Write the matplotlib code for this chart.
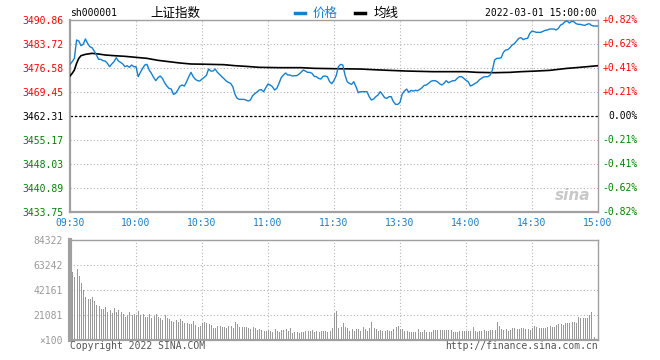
import matplotlib
matplotlib.use("Agg")
import matplotlib.pyplot as plt
import numpy as np

# ---------------- data ----------------
base_price = 3462.31
price = [
    3477.67, 3478.46, 3479.45, 3484.91, 3484.61, 3483.22, 3483.62, 3485.21, 3483.92, 3482.93, 3482.63,
    3481.64, 3480.45, 3479.16, 3479.16, 3478.76, 3478.66, 3477.97, 3476.97, 3477.77, 3478.46,
    3479.65, 3478.66, 3478.26, 3477.77, 3476.97, 3477.27, 3476.78, 3477.47, 3476.97, 3476.97,
    3474.00, 3475.29, 3476.48, 3477.47, 3477.67, 3475.98, 3474.99, 3473.80, 3472.81, 3473.70,
    3474.20, 3473.50, 3472.21, 3471.22, 3470.53, 3470.33, 3468.74, 3469.04, 3470.03, 3471.22,
    3471.52, 3471.22, 3472.51, 3474.00, 3475.29, 3474.00, 3473.20, 3472.81, 3472.71, 3473.30,
    3473.80, 3474.39, 3476.28, 3475.68, 3475.68, 3476.28, 3475.29, 3474.69, 3474.00, 3473.40,
    3472.71, 3472.31, 3472.01, 3471.02, 3468.74, 3467.55, 3467.25, 3467.25, 3467.25, 3467.05,
    3466.76, 3467.05, 3468.34, 3468.94, 3469.43, 3470.03, 3470.13, 3469.53, 3470.72, 3471.82,
    3471.52, 3471.02, 3470.03, 3470.53, 3472.01, 3473.70, 3474.49, 3475.09, 3474.49, 3474.49,
    3474.20, 3474.30, 3474.30, 3474.69, 3475.29, 3475.98, 3475.68, 3475.29, 3475.29, 3474.99,
    3474.10, 3474.00, 3473.50, 3473.30, 3474.10, 3474.20, 3474.00, 3472.51, 3471.91, 3472.91,
    3474.30, 3476.97, 3477.67, 3477.47, 3474.49, 3472.51, 3472.01, 3471.72, 3472.51, 3471.02,
    3469.24, 3469.53, 3469.53, 3469.53, 3469.53, 3468.05, 3467.05, 3467.35, 3468.05, 3468.54,
    3469.53, 3468.74, 3467.75, 3467.55, 3468.05, 3468.05, 3466.56, 3465.76, 3465.76, 3466.36,
    3468.84, 3469.73, 3470.33, 3469.34, 3469.93, 3469.73, 3469.93, 3469.83, 3470.23, 3470.72,
    3471.42, 3471.52, 3472.01, 3472.61, 3472.81, 3472.81, 3472.51, 3471.91, 3471.52, 3472.01,
    3472.81, 3472.21, 3472.51, 3472.81, 3472.81, 3473.50, 3474.00, 3474.00, 3473.50, 3472.91,
    3472.51, 3471.22, 3471.52, 3471.91, 3472.31, 3473.01, 3473.50, 3473.90, 3474.00, 3474.00,
    3474.49, 3475.98, 3478.96, 3479.45, 3479.45, 3479.65, 3481.24, 3481.93, 3482.03, 3482.63,
    3483.42, 3483.82, 3484.61, 3485.41, 3485.60, 3485.01, 3485.31, 3485.41, 3486.89, 3487.59,
    3487.39, 3487.19, 3487.19, 3487.19, 3487.49, 3487.79, 3487.89, 3488.18, 3488.18, 3488.18,
    3487.89, 3488.38, 3489.37, 3489.67, 3490.37, 3490.56, 3489.97, 3490.47, 3490.37, 3489.77,
    3489.57, 3489.57, 3489.37, 3489.27, 3489.57, 3489.77, 3489.27, 3489.08, 3489.08, 3489.08,
]

avg_minutes = [0, 1, 2, 3, 4, 5, 7, 10, 13, 16, 20, 25, 30, 35, 40, 45, 50, 55, 60, 70, 75, 80,
               86, 95, 105, 111, 120, 132, 138, 145, 153, 165, 180, 185, 193, 200, 205, 212,
               218, 222, 226, 230, 235, 240]
avg_price = [3474.20, 3474.99, 3475.98, 3477.97, 3479.45, 3480.25, 3480.64, 3480.94, 3480.74,
             3480.45, 3480.25, 3480.05, 3479.75, 3479.45, 3478.86, 3478.46, 3478.07, 3477.77,
             3477.72, 3477.57, 3477.27, 3477.07, 3476.78, 3476.68, 3476.68, 3476.48, 3476.38,
             3476.28, 3476.08, 3475.88, 3475.68, 3475.49, 3475.49, 3475.29, 3475.19, 3475.29,
             3475.49, 3475.68, 3475.88, 3476.18, 3476.48, 3476.68, 3476.97, 3477.27]

volume = [
    56000, 57000, 53400, 59870, 53960, 48340, 42160, 36540, 34570, 34570, 36260,
    32890, 29510, 28670, 26140, 26140, 27830, 23890, 25300, 23050, 27260,
    23890, 25300, 23330, 21640, 19670, 21080, 23330, 21080, 21640, 21080,
    24450, 21080, 21640, 19670, 19670, 21640, 18830, 20520, 21640, 19670,
    18270, 16860, 21080, 18830, 17710, 16020, 15460, 16860, 15460, 17710,
    16020, 14620, 14620, 13210, 13490, 16020, 12650, 11240, 12090, 14050,
    15460, 14050, 13210, 12650, 10400, 10400, 11800, 11800, 11240, 10960,
    10400, 11800, 11800, 10400, 15460, 13210, 11240, 11240, 11240, 11240,
    10400, 9560, 11240, 10400, 8430, 9280, 8430, 7590, 7870, 8430,
    7590, 6460, 9280, 7590, 7030, 8430, 8430, 9280, 7590, 10400,
    5620, 6460, 6460, 5620, 6460, 7030, 7590, 7590, 7590, 8430,
    7030, 7590, 6460, 7590, 7590, 7590, 7030, 7590, 10400, 23050,
    24450, 10400, 11240, 14620, 11240, 10400, 7870, 8990, 7870, 9280,
    9280, 7870, 11240, 8990, 7870, 9840, 15180, 9840, 8990, 7590,
    8430, 7870, 7870, 8430, 7590, 7590, 9280, 11240, 12090, 8990,
    8990, 7870, 7590, 7030, 7030, 7030, 7030, 9280, 7030, 7030,
    8430, 7030, 7030, 7030, 8430, 8430, 8430, 8430, 8430, 8430,
    8430, 8430, 8430, 7030, 7030, 7030, 7590, 7590, 7590, 7590,
    7870, 7590, 11240, 7870, 7030, 7870, 7870, 8430, 7870, 7590,
    8430, 8430, 8430, 15460, 11800, 8990, 8430, 8990, 7870, 8430,
    9840, 9840, 8990, 8990, 9840, 9840, 9280, 8990, 8430, 10400,
    12090, 11240, 10400, 9840, 9840, 9840, 11240, 11800, 11240, 11240,
    12650, 13490, 13490, 12650, 14050, 14620, 14620, 14900, 14900, 14620,
    19110, 18270, 18270, 18270, 18270, 21080, 23330, 2250, 0, 0,
]

xtick_minutes = [0, 30, 60, 90, 120, 150, 180, 210, 240]
xtick_labels = ["09:30", "10:00", "10:30", "11:00", "11:30", "13:30", "14:00", "14:30", "15:00"]
price_ticks = [3433.75, 3440.89, 3448.03, 3455.17, 3462.31, 3469.45, 3476.58, 3483.72, 3490.86]
price_tick_labels = ["3433.75", "3440.89", "3448.03", "3455.17", "3462.31",
                     "3469.45", "3476.58", "3483.72", "3490.86"]
pct_labels = ["-0.82%", "-0.62%", "-0.41%", "-0.21%", "0.00%",
              "+0.21%", "+0.41%", "+0.62%", "+0.82%"]
vol_ticks = [0, 21081, 42161, 63242, 84322]
vol_tick_labels = ["\u00d7100", "21081", "42161", "63242", "84322"]

# ---------------- style ----------------
W, H = 660, 360
mono = "DejaVu Sans Mono"
cjk = ["Noto Sans CJK SC", "DejaVu Sans"]
blue = "#1580d0"
red = "#ff0000"
green = "#008000"
frame = "#a0a0a0"
gridc = "#b4b4b4"

fig = plt.figure(figsize=(W / 100, H / 100), dpi=100)
fig.patch.set_facecolor("white")


def fx(px):
    return px / W


def fy(py):
    return 1 - py / H


L, R = 70, 598
ax = fig.add_axes([fx(L), fy(212), fx(R) - fx(L), fy(20) - fy(212)])
axv = fig.add_axes([fx(L), fy(340), fx(R) - fx(L), fy(240) - fy(340)])

minutes = np.arange(len(price))

# ---- price panel ----
ax.set_xlim(0, 240)
ax.set_ylim(price_ticks[0], price_ticks[-1])
for t in xtick_minutes[1:-1]:
    ax.axvline(t, color=gridc, lw=0.8, ls=(0, (1, 2)), zorder=1)
for i, p in enumerate(price_ticks[1:-1], start=1):
    if i == 4:
        ax.axhline(p, color="black", lw=0.9, ls=(0, (2, 1.5)), zorder=2)
    else:
        ax.axhline(p, color=gridc, lw=0.8, ls=(0, (1, 2)), zorder=1)

ax.plot(avg_minutes, avg_price, color="black", lw=1.2, zorder=3)
ax.plot(minutes, price, color=blue, lw=1.0, zorder=4)

for s in ax.spines.values():
    s.set_color(frame)
    s.set_linewidth(1.0)
ax.spines["left"].set_linewidth(1.6)
ax.spines["bottom"].set_linewidth(1.6)

ax.set_xticks(xtick_minutes)
ax.set_xticklabels(xtick_labels, fontfamily=mono, fontsize=7, color=blue)
ax.set_yticks(price_ticks)
ax.set_yticklabels(price_tick_labels, fontfamily=mono, fontsize=7)
for i, lab in enumerate(ax.get_yticklabels()):
    lab.set_color(green if i < 4 else ("black" if i == 4 else red))
ax.tick_params(axis="both", length=0)
ax.tick_params(axis="x", pad=4)
ax.tick_params(axis="y", pad=4.5)

ytr = ax.get_yaxis_transform()
for i, (p, lab) in enumerate(zip(price_ticks, pct_labels)):
    c = green if i < 4 else ("black" if i == 4 else red)
    ax.text(1 + 40 / 528, p, lab, transform=ytr, ha="right", va="center",
            fontfamily=mono, fontsize=7, color=c, clip_on=False)

# watermark
ax.text(0.985, 0.085, "sina", transform=ax.transAxes, ha="right", va="center",
        fontsize=11, fontweight="bold", style="italic", color="#c8c8c8", zorder=0)

# ---- volume panel ----
axv.set_xlim(0, 240)
axv.set_ylim(0, vol_ticks[-1])
for t in xtick_minutes[1:-1]:
    axv.axvline(t, color=gridc, lw=0.8, ls=(0, (1, 2)), zorder=1)
for v in vol_ticks[1:-1]:
    axv.axhline(v, color=gridc, lw=0.8, ls=(0, (1, 2)), zorder=1)
axv.vlines(minutes, 0, volume, colors="#999999", linewidth=0.72, zorder=2,
           antialiased=False)
for s in axv.spines.values():
    s.set_color(frame)
    s.set_linewidth(1.0)
axv.spines["left"].set_linewidth(3.0)
axv.spines["bottom"].set_linewidth(1.6)
axv.set_xticks([])
axv.set_yticks(vol_ticks)
axv.set_yticklabels(vol_tick_labels, fontfamily=mono, fontsize=7, color="#999999")
axv.tick_params(axis="y", length=0, pad=5)

# ---- header / footer texts ----
fig.text(fx(70), fy(13), "sh000001", fontfamily=mono, fontsize=7, color="black",
         ha="left", va="center")
fig.text(fx(150), fy(13), "上证指数", fontfamily=cjk, fontsize=9, color="black",
         ha="left", va="center")
fig.lines.append(plt.Line2D([fx(295), fx(305)], [fy(12.5), fy(12.5)], transform=fig.transFigure,
                            color=blue, lw=2.5))
fig.text(fx(313), fy(13), "价格", fontfamily=cjk, fontsize=9, color=blue,
         ha="left", va="center")
fig.lines.append(plt.Line2D([fx(355), fx(365)], [fy(12.5), fy(12.5)], transform=fig.transFigure,
                            color="black", lw=2.5))
fig.text(fx(374), fy(13), "均线", fontfamily=cjk, fontsize=9, color="black",
         ha="left", va="center")
fig.text(fx(597), fy(13), "2022-03-01 15:00:00", fontfamily=mono, fontsize=7, color="black",
         ha="right", va="center")
fig.text(fx(70), fy(346), "Copyright 2022 SINA.COM", fontfamily=mono, fontsize=7,
         color="#555555", ha="left", va="center")
fig.text(fx(598), fy(346), "http://finance.sina.com.cn", fontfamily=mono, fontsize=7,
         color="#555555", ha="right", va="center")

fig.savefig("out.png", dpi=100, facecolor="white")
